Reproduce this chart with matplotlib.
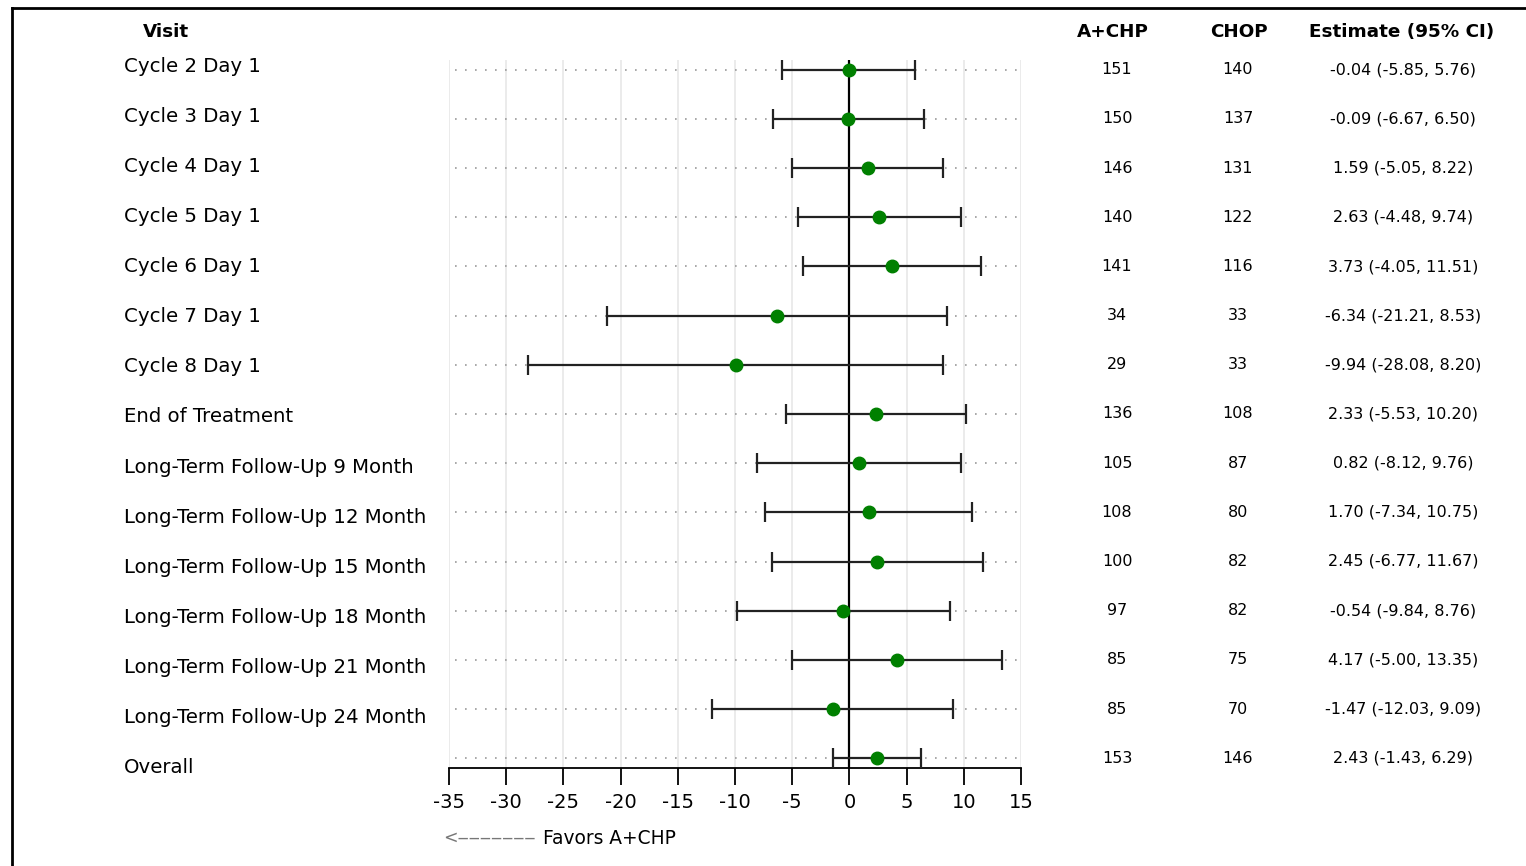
import matplotlib
matplotlib.use("Agg")
import matplotlib.pyplot as plt
from matplotlib.lines import Line2D
from matplotlib.transforms import blended_transform_factory
import numpy as np

visits = ["Cycle 2 Day 1", "Cycle 3 Day 1", "Cycle 4 Day 1", "Cycle 5 Day 1",
          "Cycle 6 Day 1", "Cycle 7 Day 1", "Cycle 8 Day 1", "End of Treatment",
          "Long-Term Follow-Up 9 Month", "Long-Term Follow-Up 12 Month",
          "Long-Term Follow-Up 15 Month", "Long-Term Follow-Up 18 Month",
          "Long-Term Follow-Up 21 Month", "Long-Term Follow-Up 24 Month", "Overall"]
estimate = [-0.04, -0.09, 1.59, 2.63, 3.73, -6.34, -9.94, 2.33, 0.82, 1.70, 2.45, -0.54, 4.17, -1.47, 2.43]
lower = [-5.85, -6.67, -5.05, -4.48, -4.05, -21.21, -28.08, -5.53, -8.12, -7.34, -6.77, -9.84, -5.00, -12.03, -1.43]
upper = [5.76, 6.50, 8.22, 9.74, 11.51, 8.53, 8.20, 10.20, 9.76, 10.75, 11.67, 8.76, 13.35, 9.09, 6.29]
n_achp = [151, 150, 146, 140, 141, 34, 29, 136, 105, 108, 100, 97, 85, 85, 153]
n_chop = [140, 137, 131, 122, 116, 33, 33, 108, 87, 80, 82, 82, 75, 70, 146]
xticks = [-35, -30, -25, -20, -15, -10, -5, 0, 5, 10, 15]

W, H = 1526, 866
fig = plt.figure(figsize=(W / 100, H / 100), dpi=100)
plt.rcParams['font.family'] = ['DejaVu Sans']

def fx(px):
    return px / W

def fy(py):
    return 1 - py / H

# main axes
ax = fig.add_axes([fx(449), fy(768), fx(1021) - fx(449), (768 - 60) / H])
n = len(visits)
y = np.arange(n)
est = np.array(estimate)
lo = np.array(lower)
hi = np.array(upper)

ax.set_xlim(-35, 15)
ax.set_ylim(n - 1 + 0.2, -0.2)
for t in xticks:
    ax.axvline(t, color="#e8e8e8", lw=1.2, zorder=0)
for yi in y:
    ax.plot([-34.5, 15], [yi, yi], color="#9a9a9a", lw=1.2, ls=(0, (1, 5)), zorder=1)
ax.axvline(0, color="black", lw=1.6, zorder=2)
ax.errorbar(est, y, xerr=[est - lo, hi - est], fmt="none", ecolor="#222222",
            elinewidth=1.6, capsize=7, capthick=1.6, zorder=3)
ax.plot(est, y, "o", color="#008000", ms=9, zorder=4)

ax.set_yticks([])
ax.set_xticks(xticks)
ax.set_xticklabels([str(t) for t in xticks], fontsize=14)
ax.tick_params(axis="x", length=12, width=1.3, pad=6)
for s in ["top", "right", "left"]:
    ax.spines[s].set_visible(False)
ax.spines["bottom"].set_linewidth(1.3)

# left labels axes (slightly different spacing)
lab = fig.add_axes([0, fy(768 + 25.07), 1, (702 + 50.14) / H])
lab.set_xlim(0, 1)
lab.set_ylim(n - 0.5, -0.5)
lab.axis("off")
for i, v in enumerate(visits):
    lab.text(fx(124), i, v, ha="left", va="center", fontsize=14.2)

# right columns
tr = blended_transform_factory(fig.transFigure, ax.transData)
for i in range(n):
    ax.text(fx(1117), i, str(n_achp[i]), transform=tr, ha="center", va="center", fontsize=11.5)
    ax.text(fx(1238), i, str(n_chop[i]), transform=tr, ha="center", va="center", fontsize=11.5)
    ax.text(fx(1403), i, f"{estimate[i]:.2f} ({lower[i]:.2f}, {upper[i]:.2f})",
            transform=tr, ha="center", va="center", fontsize=11.5)

# headers
fig.text(fx(166), fy(32), "Visit", ha="center", va="center", fontsize=13.2, fontweight="bold")
fig.text(fx(1113), fy(32), "A+CHP", ha="center", va="center", fontsize=13.2, fontweight="bold")
fig.text(fx(1239), fy(32), "CHOP", ha="center", va="center", fontsize=13.2, fontweight="bold")
fig.text(fx(1402), fy(32), "Estimate (95% CI)", ha="center", va="center", fontsize=13.2, fontweight="bold")

# favors annotation
fig.text(fx(443), fy(838), "<" + "\u2012" * 7, ha="left", va="center", fontsize=12.5, color="#777777")
fig.text(fx(543), fy(838), "Favors A+CHP", ha="left", va="center", fontsize=13.4, color="black")

# frame (top and left)
fig.add_artist(Line2D([fx(12), 1], [fy(8), fy(8)], color="black", lw=2, transform=fig.transFigure))
fig.add_artist(Line2D([fx(12), fx(12)], [fy(8), 0], color="black", lw=2, transform=fig.transFigure))

fig.savefig("out.png", dpi=100, facecolor="white")
